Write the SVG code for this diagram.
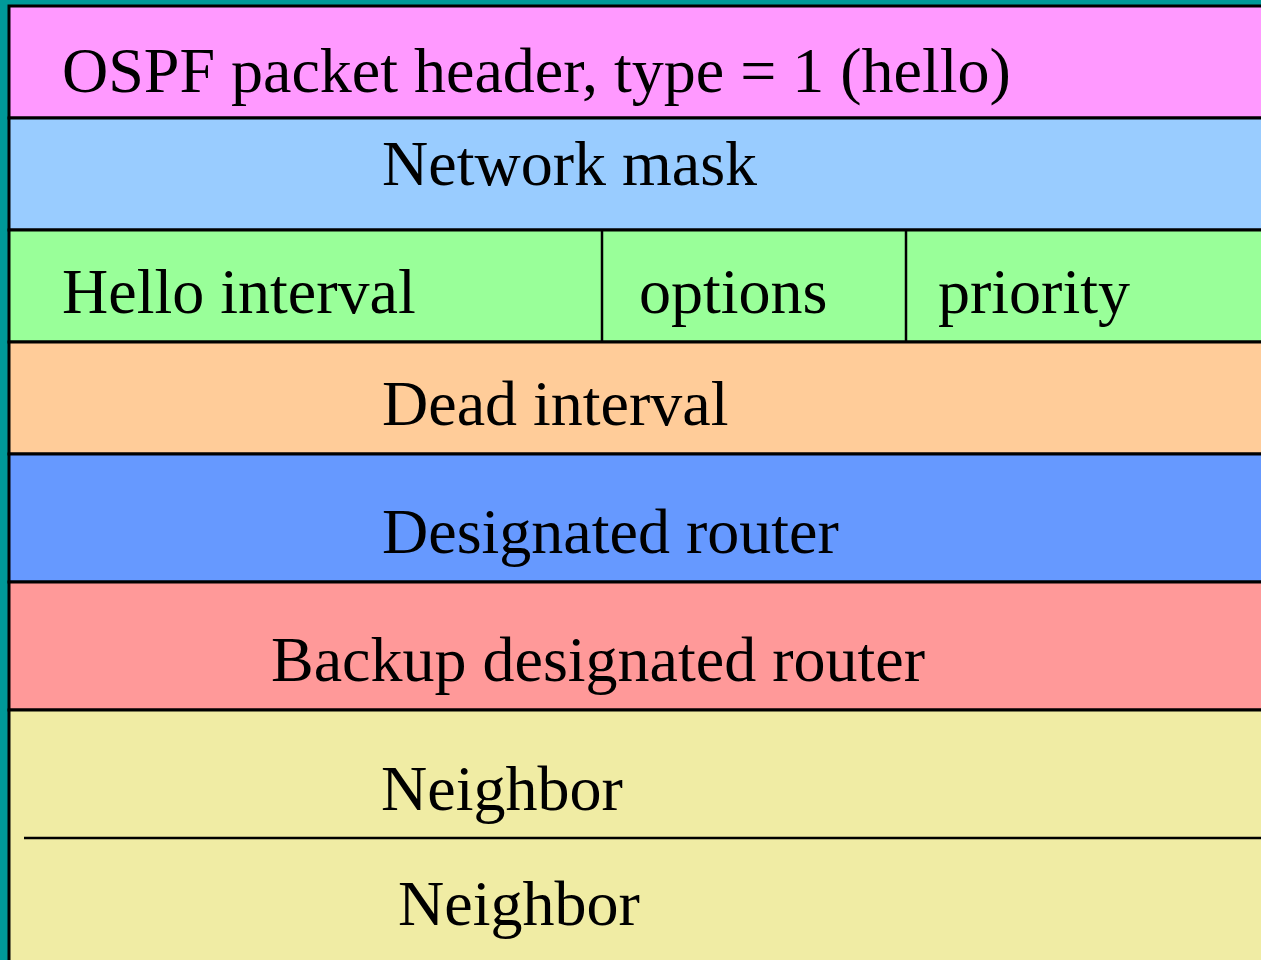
<svg xmlns="http://www.w3.org/2000/svg" width="1261" height="960" viewBox="0 0 1261 960">
<style>
.row{stroke:#000;stroke-width:3}
.t{font-family:"Liberation Serif","Times New Roman",serif;font-size:64px;fill:#000}
.ln{stroke:#000;stroke-width:2.5;fill:none}
</style>
<rect x="0" y="0" width="1261" height="960" fill="#009999"/>
<g id="header"><rect class="row" x="9" y="6" width="1262" height="112" fill="#FF99FF"/><text class="t" x="62" y="92">OSPF packet header, type = 1 (hello)</text></g>
<g id="netmask"><rect class="row" x="9" y="118" width="1262" height="112" fill="#99CCFF"/><text class="t" x="382" y="185">Network mask</text></g>
<g id="hello"><rect class="row" x="9" y="230" width="1262" height="112" fill="#99FF99"/><text class="t" x="62" y="313">Hello interval</text></g>
<g id="options"><line class="ln" x1="602" y1="230" x2="602" y2="342"/><text class="t" x="639" y="313">options</text></g>
<g id="priority"><line class="ln" x1="906" y1="230" x2="906" y2="342"/><text class="t" x="938" y="313">priority</text></g>
<g id="dead"><rect class="row" x="9" y="342" width="1262" height="112" fill="#FFCC99"/><text class="t" x="382" y="425">Dead interval</text></g>
<g id="dr"><rect class="row" x="9" y="454" width="1262" height="128" fill="#6699FF"/><text class="t" x="382" y="553">Designated router</text></g>
<g id="bdr"><rect class="row" x="9" y="582" width="1262" height="128" fill="#FF9999"/><text class="t" x="271" y="681">Backup designated router</text></g>
<g id="neighbors"><rect class="row" x="9" y="710" width="1262" height="260" fill="#F0ECA4"/><text class="t" x="381" y="810">Neighbor</text><text class="t" x="398" y="925">Neighbor</text></g>
<g id="connectors"><line class="ln" x1="24" y1="838" x2="1261" y2="838"/></g>
</svg>
